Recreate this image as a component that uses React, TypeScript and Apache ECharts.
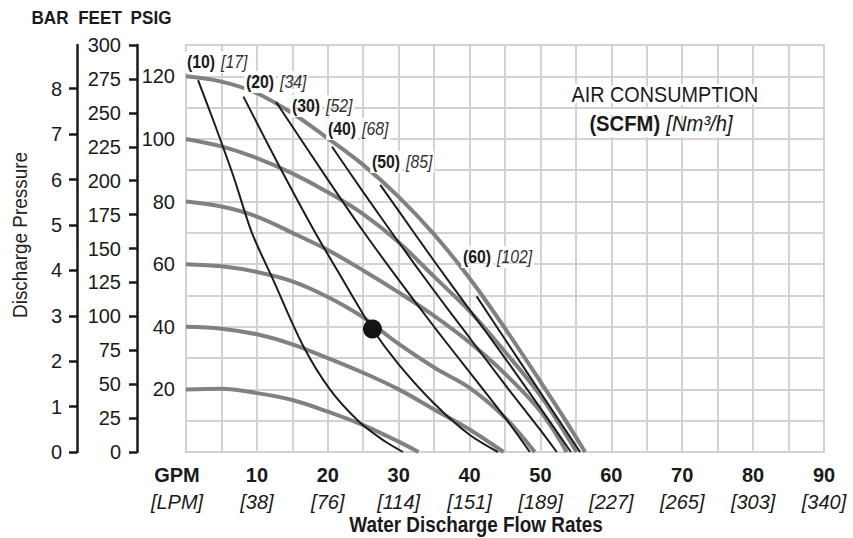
import React, { useEffect, useRef } from "react";
import * as echarts from "echarts";

// ---- axis / tick data ----
const GPM_MAX = 90;
const LPM_LABELS = ["38", "76", "114", "151", "189", "227", "265", "303", "340"]; // for 10..90 GPM
const PSI_LABELS = [20, 40, 60, 80, 100, 120];
const PSI_MAX = 130;
const FEET_MAX = 300;
const BAR_TICKS = [0, 1, 2, 3, 4, 5, 6, 7, 8];
const PSI_PER_BAR = 14.5038;

// ---- pressure curves (GPM, PSIG) ----
const curve120 = [[0, 120], [5, 118.3], [10, 114.6], [15, 108.2], [20, 100.2], [25, 91.7], [30, 81.5], [35, 69.5], [40, 55.5], [45, 39.5], [50, 22.5], [53, 12], [56.3, 0]];
const curve100 = [[0, 100], [5, 97.6], [10, 93.9], [15, 89], [20, 83], [25, 76], [30, 67], [35, 56], [40, 45], [45, 32], [50, 18], [55.1, 0]];
const curve80 = [[0, 80], [5, 78.4], [10, 75.2], [15, 70], [20, 64.5], [25, 58], [30, 51], [35, 43.5], [40, 35], [45, 25], [50, 13], [53.7, 0]];
const curve60 = [[0, 60], [5, 59.3], [10, 57.5], [15, 54.5], [20, 49.5], [25, 43], [30, 34.5], [35, 27], [40, 20.5], [45, 11], [49.2, 0]];
const curve40 = [[0, 40], [5, 39.4], [10, 37.6], [15, 34.4], [20, 30], [25, 25.3], [30, 20], [35, 13.6], [40, 7.2], [44.8, 0]];
const curve20 = [[0, 20], [5, 20.2], [10, 18.8], [15, 16.6], [20, 12.9], [25, 8.6], [30, 3.3], [32.8, 0]];

// ---- air consumption lines (GPM, PSIG) ----
const scfm10 = [[1.7, 118.8], [4, 105], [6.7, 88], [9.3, 70], [12.3, 55], [16.5, 34], [20.3, 20], [24.5, 9.5], [28, 3.5], [30.6, 0]];
const scfm20 = [[8.1, 113.5], [13, 92], [18, 71], [22, 55.5], [26.3, 39.3], [30, 28], [35, 15.5], [40, 5.5], [44, 0]];
const scfm30 = [[12.7, 111.8], [20, 87], [25, 70.5], [30, 55], [35, 40], [40, 25.5], [45, 11], [48.5, 0]];
const scfm40 = [[20.6, 97.5], [25, 83], [30, 67], [35, 51.5], [40, 36.5], [45, 21.5], [50, 7], [52.3, 0]];
const scfm50 = [[27.4, 85.3], [30, 77], [35, 61], [40, 45.5], [45, 30], [50, 14], [54.3, 0]];
const scfm60 = [[41, 49.7], [45, 36], [50, 19], [55.6, 0]];

const PRESSURE_CURVES = [curve120, curve100, curve80, curve60, curve40, curve20];
const AIR_LINES = [scfm10, scfm20, scfm30, scfm40, scfm50, scfm60];
const SCFM_LABELS = ["10", "20", "30", "40", "50", "60"];
const NM3H_LABELS = ["17", "34", "52", "68", "85", "102"];
const OPERATING_POINT = [26.3, 39.3];

const FONT = "'Liberation Sans', Arial, sans-serif";
const GRID_COLOR = "#d2d2d2";
const GRAY = "#7f8184";
const INK = "#1d1d1d";

export default function App() {
  const ref = useRef<HTMLDivElement>(null);
  useEffect(() => {
    if (!ref.current) return;
    const chart = echarts.init(ref.current, null, { renderer: "svg" });

    const labelPos = [
      [187, 62], [246, 82], [292, 106], [328, 129], [372, 162], [463, 257],
    ];

    const series: any[] = [];
    PRESSURE_CURVES.forEach((d) =>
      series.push({
        type: "line", data: d, showSymbol: false, smooth: 0.35,
        lineStyle: { color: GRAY, width: 4 }, z: 2, silent: true,
      })
    );
    AIR_LINES.forEach((d) =>
      series.push({
        type: "line", data: d, showSymbol: false, smooth: 0.3,
        lineStyle: { color: INK, width: 2 }, z: 3, silent: true,
      })
    );
    series.push({
      type: "scatter", data: [OPERATING_POINT], symbolSize: 19,
      itemStyle: { color: "#141414", opacity: 1 }, z: 5, silent: true,
    });

    const title = (t: string, x: number) => ({
      type: "text", x, y: 18, scaleX: 0.9,
      style: { text: t, font: `bold 19px ${FONT}`, fill: "#1a1a1a", textAlign: "center", textVerticalAlign: "middle" },
    });

    const graphics: any[] = [
      title("BAR", 50), title("FEET", 100), title("PSIG", 151),
      { type: "text", x: 20, y: 235, rotation: Math.PI / 2, scaleX: 0.9, style: { text: "Discharge Pressure", font: `21px ${FONT}`, fill: "#222", textAlign: "center", textVerticalAlign: "middle" } },
      { type: "text", x: 476, y: 524, scaleX: 0.86, style: { text: "Water Discharge Flow Rates", font: `bold 22px ${FONT}`, fill: "#1a1a1a", textAlign: "center", textVerticalAlign: "middle" } },
      { type: "text", x: 665, y: 94, z: 10, scaleX: 0.9, style: { text: "AIR CONSUMPTION", font: `22px ${FONT}`, fill: "#1a1a1a", textAlign: "center", textVerticalAlign: "middle", stroke: "#fff", lineWidth: 6 } },
      {
        type: "text", x: 661, y: 123, z: 10, scaleX: 0.92,
        style: {
          text: "{b|(SCFM)}  {i|[Nm³/h]}", textAlign: "center", textVerticalAlign: "middle",
          rich: {
            b: { font: `bold 22px ${FONT}`, fill: "#1a1a1a", textBorderColor: "#fff", textBorderWidth: 6 },
            i: { font: `italic 22px ${FONT}`, fill: "#1a1a1a", textBorderColor: "#fff", textBorderWidth: 6 },
          },
        },
      },
    ];
    SCFM_LABELS.forEach((s, k) => {
      graphics.push({
        type: "text", x: labelPos[k][0], y: labelPos[k][1], z: 10, scaleX: 0.88,
        style: {
          text: `{b|(${s})}  {i|[${NM3H_LABELS[k]}]}`, textAlign: "left", textVerticalAlign: "middle",
          rich: {
            b: { font: `bold 18px ${FONT}`, fill: "#1a1a1a", textBorderColor: "#fff", textBorderWidth: 4 },
            i: { font: `italic 18px ${FONT}`, fill: "#333", textBorderColor: "#fff", textBorderWidth: 4 },
          },
        },
      });
    });

    chart.setOption({
      animation: false,
      backgroundColor: "#ffffff",
      textStyle: { fontFamily: FONT },
      grid: { left: 186, top: 45, width: 638, height: 407, show: true, borderColor: GRID_COLOR, borderWidth: 2, backgroundColor: "transparent" },
      xAxis: {
        type: "value", min: 0, max: GPM_MAX, interval: 5,
        axisLine: { show: true, lineStyle: { color: GRID_COLOR, width: 2 } },
        axisTick: { show: false },
        splitLine: { show: true, lineStyle: { color: GRID_COLOR, width: 2 } },
        axisLabel: {
          margin: 9,
          showMinLabel: true, showMaxLabel: true,
          formatter: (v: number) => {
            if (v % 10 !== 0) return "";
            if (v === 0) return "{g|GPM}\n{l|[LPM]}";
            return `{b|${v}}\n{i|[${LPM_LABELS[v / 10 - 1]}]}`;
          },
          rich: {
            g: { fontFamily: FONT, fontWeight: "bold", fontSize: 20, color: "#1a1a1a", lineHeight: 27, padding: [0, 18, 0, 0] },
            l: { fontFamily: FONT, fontStyle: "italic", fontSize: 20, color: "#1a1a1a", lineHeight: 27, padding: [0, 18, 0, 0] },
            b: { fontFamily: FONT, fontWeight: "bold", fontSize: 20, color: "#1a1a1a", lineHeight: 27 },
            i: { fontFamily: FONT, fontStyle: "italic", fontSize: 20, color: "#1a1a1a", lineHeight: 27 },
          },
        },
      },
      yAxis: [
        {
          type: "value", min: 0, max: PSI_MAX, interval: 10, position: "left",
          axisLine: { show: false }, axisTick: { show: false },
          splitLine: { show: true, lineStyle: { color: GRID_COLOR, width: 2 } },
          axisLabel: {
            margin: 11, fontSize: 20, color: "#1a1a1a", fontFamily: FONT,
            formatter: (v: number) => (PSI_LABELS.indexOf(v) >= 0 ? String(v) : ""),
          },
        },
        {
          type: "value", min: 0, max: FEET_MAX, interval: 25, position: "left", offset: 49,
          axisLine: { show: true, onZero: false, lineStyle: { color: "#1a1a1a", width: 2.5 } },
          axisTick: { show: true, length: 8, lineStyle: { color: "#1a1a1a", width: 2.5 } },
          splitLine: { show: false },
          axisLabel: { margin: 16, fontSize: 20, color: "#1a1a1a", fontFamily: FONT },
        },
        {
          type: "value", min: 0, max: PSI_MAX / PSI_PER_BAR, position: "left", offset: 109,
          axisLine: { show: true, onZero: false, lineStyle: { color: "#1a1a1a", width: 2.5 } },
          axisTick: { show: true, length: 8, customValues: BAR_TICKS, lineStyle: { color: "#1a1a1a", width: 2.5 } },
          splitLine: { show: false },
          axisLabel: { margin: 15, fontSize: 20, color: "#1a1a1a", fontFamily: FONT, customValues: BAR_TICKS, formatter: (v: number) => String(Math.round(v)) },
        },
      ],
      series,
      graphic: graphics,
    });
    return () => chart.dispose();
  }, []);
  return <div ref={ref} style={{ position: "fixed", left: 0, top: 0, width: 853, height: 538, background: "#fff" }} />;
}
